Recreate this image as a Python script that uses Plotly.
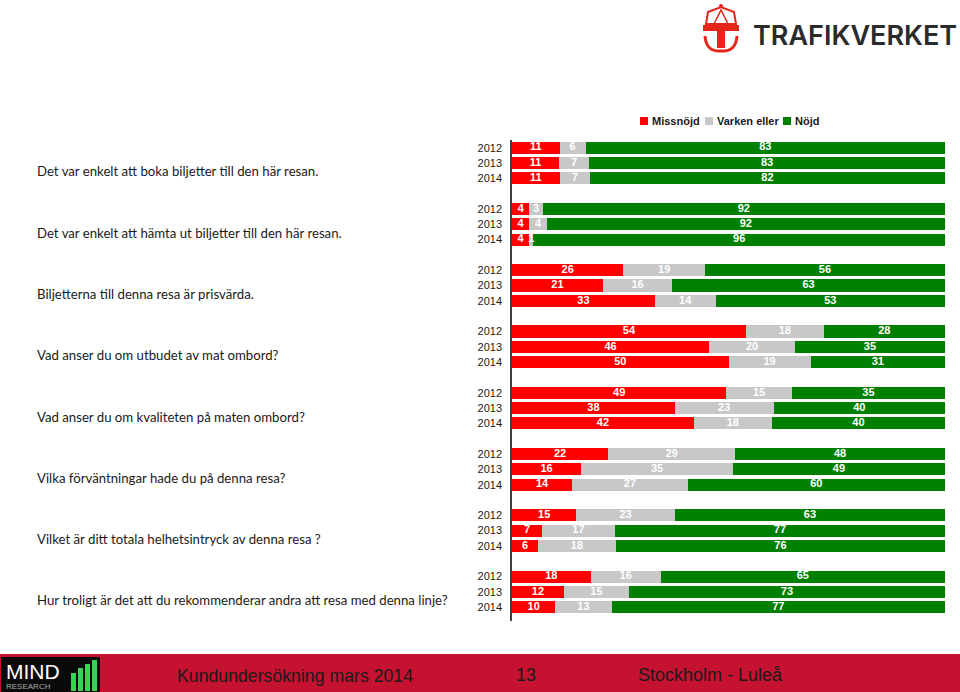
import plotly.graph_objects as go

questions = [
    "Det var enkelt att boka biljetter till den här resan.",
    "Det var enkelt att hämta ut biljetter till den här resan.",
    "Biljetterna till denna resa är prisvärda.",
    "Vad anser du om utbudet av mat ombord?",
    "Vad anser du om kvaliteten på maten ombord?",
    "Vilka förväntningar hade du på denna resa?",
    "Vilket är ditt totala helhetsintryck av denna resa ?",
    "Hur troligt är det att du rekommenderar andra att resa med denna linje?",
]
years = ["2012", "2013", "2014"]
series_names = ["Missnöjd", "Varken eller", "Nöjd"]

missnojd = [
    [11, 11, 11], [4, 4, 4], [26, 21, 33], [54, 46, 50],
    [49, 38, 42], [22, 16, 14], [15, 7, 6], [18, 12, 10],
]
varken = [
    [6, 7, 7], [3, 4, 1], [19, 16, 14], [18, 20, 19],
    [15, 23, 18], [29, 35, 27], [23, 17, 18], [16, 15, 13],
]
nojd = [
    [83, 83, 82], [92, 92, 96], [56, 63, 53], [28, 35, 31],
    [35, 40, 40], [48, 49, 60], [63, 77, 76], [65, 73, 77],
]
colors = ["#FF0000", "#C8C8C8", "#008000"]

# slot positions: 3 bars per group + 1 gap slot
slots, slot_labels = [], []
for g in range(len(questions)):
    for i, yr in enumerate(years):
        slots.append(g * 4 + i)
        slot_labels.append(yr)

series = [[v for grp in d for v in grp] for d in (missnojd, varken, nojd)]
totals = [sum(s[k] for s in series) for k in range(len(slots))]

fig = go.Figure()
for name, vals, col in zip(series_names, series, colors):
    fig.add_trace(go.Bar(
        y=slots, x=vals, orientation="h", name=name,
        marker=dict(color=col, line=dict(width=0)),
        width=0.79, hoverinfo="skip", showlegend=False,
    ))

# value labels centred in each (normalised) segment
lab_x, lab_y, lab_t = [], [], []
for k in range(len(slots)):
    cum = 0.0
    for s in series:
        v = s[k] * 100.0 / totals[k]
        lab_x.append(cum + v / 2)
        lab_y.append(slots[k])
        lab_t.append(str(s[k]))
        cum += v
fig.add_trace(go.Scatter(
    x=lab_x, y=lab_y, text=lab_t, mode="text", textposition="middle center",
    textfont=dict(family="Liberation Sans, Arial", size=11, color="white", weight="bold"),
    hoverinfo="skip", showlegend=False,
))

# pixel -> paper helpers (plot area: x 512..945, y 140..621)
L, R, T, B = 512, 945, 140, 621
def px(x):
    return (x - L) / (R - L)
def py(y):
    return (B - y) / (B - T)

annotations = []
shapes = []
for g, q in enumerate(questions):
    annotations.append(dict(
        xref="paper", yref="y", x=px(35), y=g * 4 + 1.55, xanchor="left", yanchor="middle",
        text=q, showarrow=False,
        font=dict(family="Lato, Carlito, Open Sans", size=13.2, color="#1a1a1a"),
    ))

# manual legend
leg_x = [640, 705, 783]
for lx, name, col in zip(leg_x, series_names, colors):
    shapes.append(dict(type="rect", xref="paper", yref="paper", x0=px(lx), x1=px(lx + 8),
                       y0=py(125), y1=py(117), fillcolor=col, line=dict(width=0)))
    annotations.append(dict(xref="paper", yref="paper", x=px(lx + 10), y=py(121),
                            xanchor="left", yanchor="middle", text=name, showarrow=False,
                            font=dict(family="Liberation Sans, Arial", size=11,
                                      color="#1a1a1a", weight="bold")))

# footer band
shapes.append(dict(type="rect", xref="paper", yref="paper", x0=px(0), x1=px(960),
                   y0=py(692), y1=py(654), fillcolor="#C41230", line=dict(width=0), layer="below"))
# MIND logo box
shapes.append(dict(type="rect", xref="paper", yref="paper", x0=px(1), x1=px(100),
                   y0=py(692), y1=py(657), fillcolor="#0a0a0a", line=dict(width=0)))
for bx, top in [(71, 673), (78, 668), (85, 664), (92, 660)]:
    shapes.append(dict(type="rect", xref="paper", yref="paper", x0=px(bx), x1=px(bx + 5),
                       y0=py(691), y1=py(top), fillcolor="#39d353", line=dict(width=0)))
footfont = "Liberation Sans Narrow, Liberation Sans"
annotations += [
    dict(xref="paper", yref="paper", x=px(4), y=py(671), xanchor="left", yanchor="middle",
         text="MIND", showarrow=False, font=dict(family=footfont, size=21, color="white")),
    dict(xref="paper", yref="paper", x=px(4), y=py(686), xanchor="left", yanchor="middle",
         text="RESEARCH", showarrow=False, font=dict(family=footfont, size=8, color="#aaaaaa")),
    dict(xref="paper", yref="paper", x=px(175), y=py(676), xanchor="left", yanchor="middle",
         text="Kundundersökning mars 2014", showarrow=False,
         font=dict(family=footfont, size=17.7, color="#1a1a1a")),
    dict(xref="paper", yref="paper", x=px(526), y=py(675), xanchor="center", yanchor="middle",
         text="13", showarrow=False, font=dict(family=footfont, size=18, color="#1a1a1a")),
    dict(xref="paper", yref="paper", x=px(636), y=py(675), xanchor="left", yanchor="middle",
         text="Stockholm - Luleå", showarrow=False,
         font=dict(family=footfont, size=18, color="#1a1a1a")),
]

# Trafikverket logo
annotations.append(dict(xref="paper", yref="paper", x=px(751), y=py(35), xanchor="left",
                        yanchor="middle", text="TRAFIKVERKET", showarrow=False,
                        font=dict(family="Inter, DejaVu Sans", size=27, color="#2b2b2b",
                                  weight=600)))
red = "#E4261B"
shapes.append(dict(type="path", xref="paper", yref="paper",
                   path=("M {a},{b} L {c},{d} L {e},{f} L {g},{h} L {i},{j} Z").format(
                       a=px(706), b=py(24), c=px(708), d=py(12), e=px(721), f=py(7),
                       g=px(734), h=py(12), i=px(736), j=py(24)),
                   fillcolor="rgba(0,0,0,0)", line=dict(color=red, width=2)))
shapes.append(dict(type="path", xref="paper", yref="paper",
                   path=("M {a},{b} L {c},{d} L {e},{f} Z").format(
                       a=px(714), b=py(24), c=px(721), d=py(10), e=px(728), f=py(24)),
                   fillcolor="rgba(0,0,0,0)", line=dict(color=red, width=1.5)))
shapes.append(dict(type="circle", xref="paper", yref="paper", x0=px(719), x1=px(723),
                   y0=py(8), y1=py(4), fillcolor=red, line=dict(width=0)))
shapes.append(dict(type="rect", xref="paper", yref="paper", x0=px(703), x1=px(739),
                   y0=py(31), y1=py(25), fillcolor=red, line=dict(width=0)))
shapes.append(dict(type="rect", xref="paper", yref="paper", x0=px(717), x1=px(725),
                   y0=py(48), y1=py(31), fillcolor=red, line=dict(width=0)))
shapes.append(dict(type="path", xref="paper", yref="paper",
                   path="M {a},{b} Q {c},{d} {e},{f} Q {g},{h} {i},{j}".format(
                       a=px(705), b=py(36), c=px(706), d=py(52), e=px(721), f=py(51),
                       g=px(736), h=py(52), i=px(737), j=py(36)),
                   fillcolor="rgba(0,0,0,0)", line=dict(color=red, width=3)))

fig.update_layout(
    barmode="stack", barnorm="percent",
    width=960, height=692,
    margin=dict(l=L, r=960 - R, t=T, b=692 - B),
    paper_bgcolor="white", plot_bgcolor="white",
    showlegend=False,
    xaxis=dict(range=[0, 100], visible=False, fixedrange=True),
    yaxis=dict(range=[30.9, -0.5], tickmode="array", tickvals=slots, ticktext=slot_labels,
               showline=True, linecolor="#404040", linewidth=1.5, ticks="", showgrid=False,
               zeroline=False, ticklabelstandoff=6,
               tickfont=dict(family="Liberation Sans, Arial", size=11, color="#1a1a1a")),
    annotations=annotations, shapes=shapes,
    bargap=0,
)

fig.write_html("out.html", config={"displayModeBar": False},
               post_script="document.body.style.margin='0';")
